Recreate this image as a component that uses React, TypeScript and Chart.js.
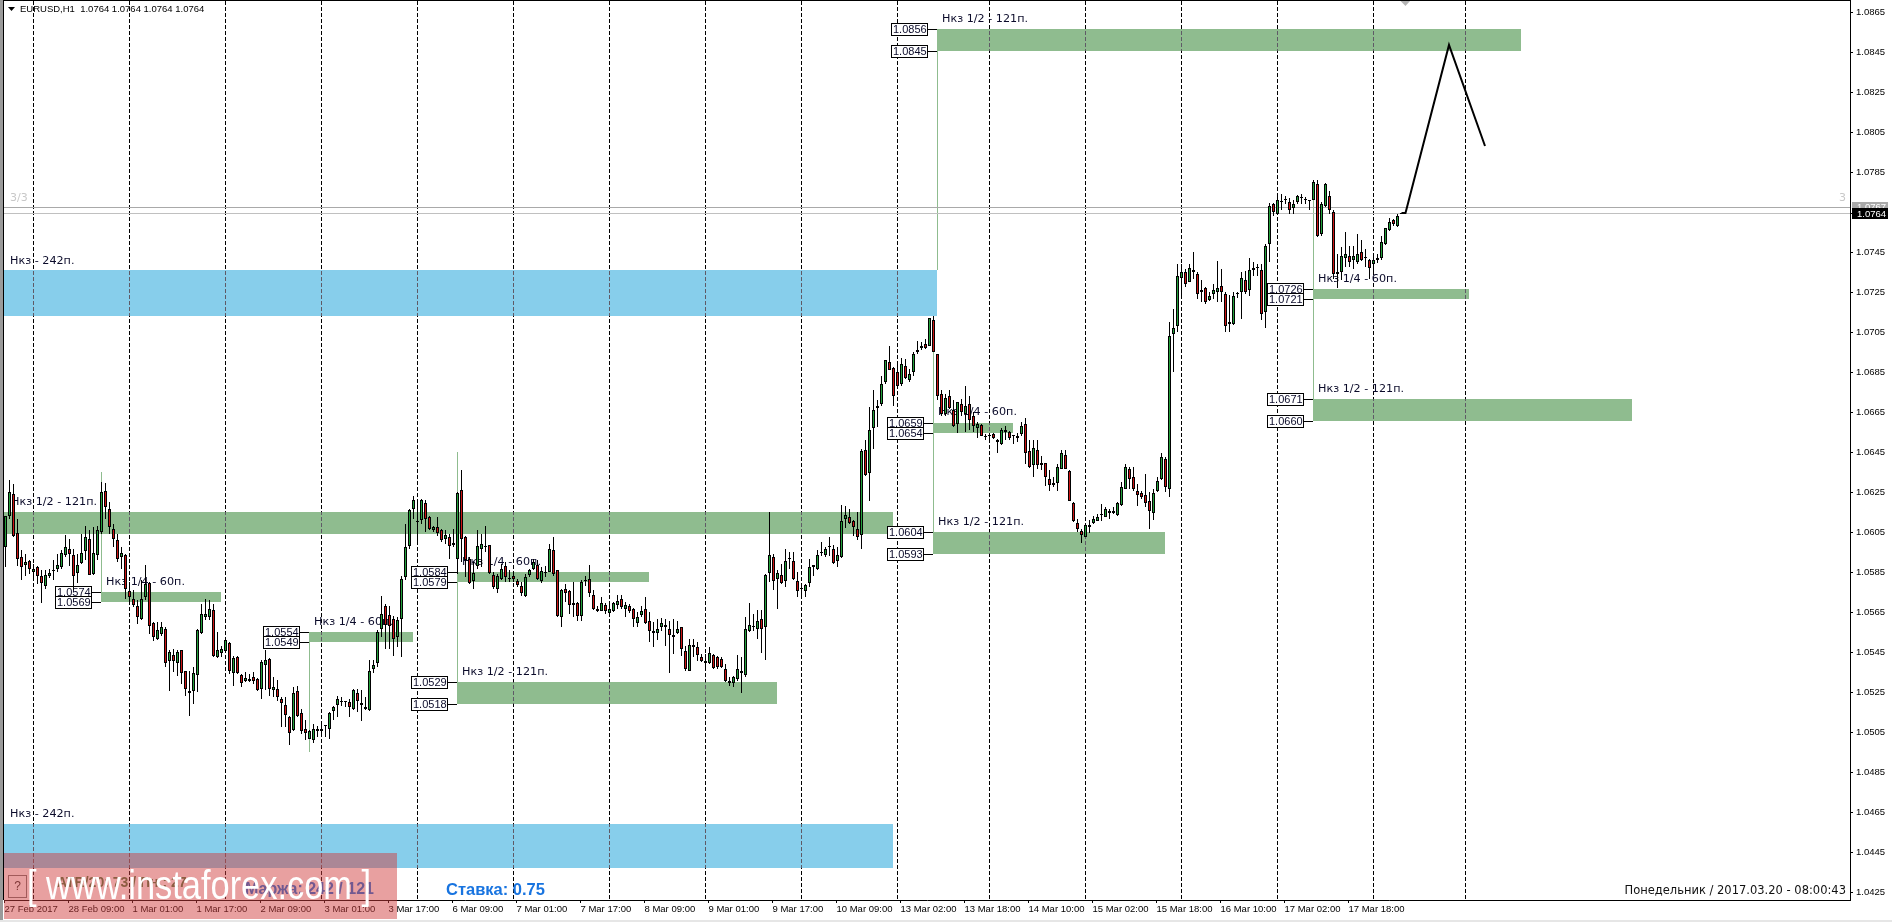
import React, { useEffect, useRef } from "react";
import { Chart, registerables } from "chart.js";

Chart.register(...registerables);

// Prices in points: 10615 means 1.0615
const opens = [
10597.5,10613,10624,10604.5,10592.5,10588.5,10590.5,10585,10587.5,10583,
10578,10583,10585.5,10586.5,10587.5,10593.5,10596.5,10593.5,10584.5,10589.5,
10595.5,10601.5,10584,10593.5,10605,10625.5,10616.5,10606.5,10601,10592.5,
10593.5,10575.5,10571.5,10568,10561.5,10572.5,10579.5,10559.5,10551.5,10554,
10556.5,10540.5,10543.5,10539.5,10546,10535.5,10525.5,10525.5,10533.5,10554.5,
10562.5,10562.5,10566,10542.5,10544.5,10545.5,10549.5,10534.5,10542.5,10533.5,
10530.5,10530.5,10532.5,10531.5,10526.5,10538.5,10541.5,10526,10526.5,10521.5,
10518.5,10512.5,10506,10525.5,10514.5,10506.5,10501.5,10501,10505.5,10505.5,
10508,10506.5,10515.5,10518.5,10520,10520,10520,10516.5,10524.5,10519.5,
10517.5,10516,10536.5,10539.5,10556.5,10568,10563.5,10561.5,10552.5,10561.5,
10582.5,10598,10616.5,10610,10611,10619.5,10612.5,10606,10607.5,10606,
10601.5,10602.5,10599.5,10591.5,10626,10602.5,10591.5,10580.5,10588,10596.5,
10597.5,10598.5,10583.5,10576.5,10581.5,10588,10581.5,10583,10580.5,10578,
10573,10583.5,10586.5,10588.5,10580.5,10584.5,10585,10596,10586,10562.5,
10576.5,10575.5,10569.5,10569.5,10563,10580.5,10581.5,10573.5,10565.5,10565.5,
10568.5,10564.5,10565.5,10568.5,10571.5,10566.5,10568,10566.5,10559.5,10563.5,
10566.5,10560.5,10554.5,10554.5,10557.5,10557.5,10556.5,10552.5,10554.5,10557.5,
10545.5,10535.5,10547.5,10547.5,10542.5,10539.5,10539.5,10543.5,10542.5,10541.5,
10536.5,10529.5,10529.5,10531.5,10535.5,10533.5,10555.5,10557.5,10556.5,10561.5,
10557.5,10584.5,10592.5,10581.5,10583.5,10580.5,10591.5,10590.5,10580.5,10576.5,
10575.5,10579.5,10587.5,10586.5,10594.5,10593.5,10597.5,10596.5,10590.5,10592.5,
10611.5,10612.5,10610.5,10606.5,10603.5,10646,10634.5,10657,10667,10669,
10680,10690,10687,10685,10679,10688,10681,10685,10695,10697,
10699,10698,10711,10694,10674,10664,10673,10666,10659,10669,
10664,10669,10663,10657,10658.5,10652.5,10653,10654,10651,10649,
10655,10655,10653,10652,10654,10659,10645.5,10638.5,10646,10639.5,
10639.5,10631.5,10628.5,10629.5,10636.5,10643.5,10635.5,10619.5,10609.5,10605.5,
10602.5,10607.5,10609.5,10610.5,10613.5,10612.5,10614.5,10615.5,10613.5,10618.5,
10626.5,10636.5,10632.5,10625.5,10624.5,10623.5,10620.5,10614.5,10625.5,10631.5,
10641.5,10626.5,10704,10708,10732,10735,10730,10736,10734,10725,
10727,10721,10724,10725,10728,10724,10709,10709,10724,10725,
10731,10726,10737,10737,10736,10715,10749,10769,10764,10770,
10771,10770,10767,10770,10772,10771,10770.5,10771,10779,10754,
10768,10773,10765,10735,10735,10742,10743,10741,10740,10745,
10742,10741,10739,10741,10742,10749,10756,10761,10758,10764,
];
const closes = [
10613,10625,10603,10591.5,10587.5,10590,10586.5,10586.5,10583,10579.5,
10583.5,10584.5,10586,10588.5,10594.5,10597.5,10594,10583,10588.5,10594.5,
10602.5,10583.5,10594.5,10606,10625,10617.5,10607.5,10601.5,10591.5,10594.5,
10576.5,10572.5,10568.5,10562.5,10571.5,10579,10558,10552.5,10556,10557.5,
10539.5,10545,10540.5,10545,10534.5,10526.5,10524.5,10534.5,10556,10564,
10564,10566.5,10543,10546,10546.5,10551,10535.5,10542,10534.5,10529.5,
10532,10531.5,10530.5,10526,10540,10541,10526.5,10527.5,10522.5,10519.5,
10513.5,10504.5,10524.5,10513,10505.5,10504.5,10505.5,10506.5,10506.5,10506.5,
10508.5,10514.5,10517.5,10521.5,10520.5,10520.5,10517.5,10526,10520.5,10518.5,
10516.5,10535.5,10538.5,10555,10564,10558.5,10558,10551.5,10561,10581.5,
10597.5,10616,10621,10610.5,10621,10611.5,10606.5,10607.5,10604.5,10601,
10603.5,10598,10598.5,10624.5,10601.5,10591,10579.5,10584.5,10598,10599,
10598,10584.5,10577.5,10583,10586.5,10582.5,10582,10581.5,10578.5,10574.5,
10582.5,10586,10590,10581.5,10585.5,10585,10596.5,10584,10563,10576,
10574.5,10568.5,10568.5,10563,10580,10581,10574.5,10566.5,10566.5,10569.5,
10565.5,10566.5,10569.5,10570.5,10567.5,10568.5,10565.5,10561.5,10562.5,10565.5,
10559.5,10555.5,10555.5,10556.5,10559.5,10558.5,10553.5,10553.5,10556.5,10546.5,
10536.5,10548.5,10548.5,10543.5,10540.5,10540.5,10544.5,10537,10537.5,10537.5,
10530.5,10530.5,10532.5,10536.5,10534.5,10556.5,10558.5,10558,10560.5,10556.5,
10583.5,10593.5,10580.5,10584.5,10579.5,10590.5,10592,10581.5,10575.5,10577,
10578.5,10587.5,10588.5,10593.5,10595,10596.5,10598,10589.5,10593.5,10610.5,
10613.5,10609.5,10607.5,10602.5,10645.5,10633.5,10656,10666,10668,10679,
10691,10686,10673,10678,10689,10682,10684,10694,10696,10698,
10697,10712,10695,10673,10664,10672,10667,10658,10670,10665,
10668,10661,10658,10659,10653,10653,10653.5,10652,10650,10656,
10656,10652,10653.5,10653,10658,10644.5,10637.5,10647,10638.5,10638.5,
10632.5,10628.5,10629.5,10637.5,10644.5,10636.5,10620.5,10610.5,10606.5,10603.5,
10608.5,10608.5,10611.5,10612.5,10614,10616.5,10615.5,10614.5,10619.5,10627.5,
10637.5,10631.5,10626.5,10623.5,10622.5,10619.5,10615.5,10624.5,10630.5,10642.5,
10627.5,10703,10707,10733,10735,10729,10737,10735,10724,10726,
10720,10723,10726,10727,10725,10708,10710,10723,10724.5,10732,
10725,10736,10736,10737.5,10714,10748,10768,10765,10771,10770.5,
10771.5,10766,10769,10773,10772.5,10771.5,10771,10780,10753,10769,
10779,10766,10734,10734,10743,10744,10740,10743,10744,10741,
10742.5,10737,10741,10742,10750,10757,10760,10759,10763,10764.5,
];
const highs = [
10613,10631,10629,10611.5,10596,10594,10591,10589,10588,10586,
10586,10586.5,10591,10594,10596,10603.5,10601.5,10596.5,10594,10604,
10608,10606,10607.5,10608,10630,10629.5,10620,10609,10604,10597.5,
10594,10580,10576,10571,10581,10588.5,10580,10560,10560,10560,
10557.5,10546,10546.5,10546,10546,10535.5,10535.5,10537.5,10556.5,10569,
10571.5,10571,10569,10555,10548,10551.5,10550,10543,10543,10534,
10535,10534,10535,10532,10541,10546,10542,10532.5,10531,10522.5,
10522.5,10513,10527.5,10528,10516.5,10511,10506,10509,10508,10509,
10508.5,10515,10518,10523,10522.5,10520.5,10521.5,10526.5,10526.5,10526,
10522.5,10541,10541,10556,10573,10569,10568,10563,10562.5,10583,
10609,10616.5,10623,10621,10621.5,10621,10613,10608,10612.5,10606.5,
10606,10604,10606.5,10625,10636,10603,10592.5,10590,10606,10604,
10608,10598.5,10585,10584,10589,10590,10586,10585,10581.5,10580,
10584,10586.5,10591.5,10591,10587.5,10588,10599,10602.5,10586,10576.5,
10579,10576,10580,10570,10581,10583,10588.5,10576,10568,10572.5,
10569.5,10569,10570,10573.5,10573.5,10570,10569,10567,10565,10568,
10572.5,10565,10560,10561.5,10562,10561.5,10560.5,10561.5,10560.5,10557.5,
10548,10551.5,10551.5,10550,10544,10544,10547.5,10544,10543,10542.5,
10539,10532.5,10533,10543.5,10542.5,10562.5,10569.5,10564,10566,10566,
10584,10615,10594,10586,10589,10596.5,10595,10595,10585,10578,
10579,10591.5,10588.5,10596,10600,10597.5,10602.5,10598.5,10597.5,10618.5,
10618,10616.5,10611,10615,10646.5,10651,10667.5,10676,10671,10683,
10691,10698,10687.5,10690,10692,10691.5,10686.5,10695,10700.5,10700,
10701.5,10712,10713,10694,10676,10674,10676,10671,10670,10671.5,
10678,10673,10665,10660,10659,10654,10654,10654.5,10651.5,10657,
10658,10655.5,10653.5,10654.5,10660,10662,10651,10651,10651,10643,
10639.5,10636,10632.5,10639,10646,10646,10636,10620,10611.5,10606.5,
10609,10611,10613,10614,10619,10617.5,10616.5,10617.5,10620,10630,
10639,10637.5,10637.5,10629,10625.5,10634,10625,10626.5,10632.5,10644.5,
10642.5,10710,10716.5,10739,10739,10736.5,10739,10745,10735,10731,
10727.5,10725,10729,10740.5,10736.5,10725,10723.5,10725,10725,10735,
10735.5,10742,10740,10739,10739,10749,10769.5,10769.5,10774.5,10774,
10773,10772,10771,10773.5,10774,10772.5,10771,10781,10781,10770,
10779.5,10775.5,10766,10744,10747.5,10755,10748,10748,10754,10751,
10746.5,10741.5,10744,10744,10753,10757,10762,10761.5,10764,10764.5,
];
const lows = [
10587.5,10611.5,10602.5,10588,10581,10583,10584,10582.5,10579,10569.5,
10576.5,10582,10581,10585,10586.5,10592.5,10588,10576,10579.5,10589,
10591,10583.5,10583.5,10591,10604,10611.5,10604,10597.5,10590,10586.5,
10571.5,10570,10567.5,10559,10561,10571,10554,10550.5,10551,10553,
10537.5,10525.5,10535,10533,10529,10523,10513,10519,10525,10554,
10561,10561,10542.5,10542,10542.5,10545,10534,10528,10534,10527.5,
10530,10530,10529,10525.5,10521.5,10526,10523,10522.5,10520.5,10507.5,
10507.5,10498.5,10505.5,10512.5,10504,10501,10501.5,10499.5,10502.5,10504,
10502.5,10501.5,10511,10512.5,10518,10517.5,10512.5,10516,10515,10510.5,
10516,10515.5,10534.5,10537.5,10552.5,10546.5,10546.5,10543,10547.5,10542.5,
10581,10596.5,10611.5,10599,10609,10605,10606,10605,10603,10600,
10599,10591.5,10597.5,10584,10590,10582.5,10579,10576.5,10586.5,10587.5,
10595,10584,10576.5,10574.5,10581,10580,10580,10580,10577.5,10573,
10572.5,10582.5,10586,10581,10579.5,10582.5,10585,10583,10562.5,10557.5,
10570,10564,10562.5,10560.5,10560.5,10578,10572.5,10566,10565,10565.5,
10564,10563.5,10565,10566.5,10566.5,10562.5,10564.5,10557.5,10557.5,10562.5,
10559,10550,10547.5,10551,10555.5,10548,10534.5,10544,10554,10543,
10535.5,10535.5,10542.5,10540.5,10540,10537.5,10539,10536.5,10536.5,10537,
10530,10528,10527.5,10530.5,10524.5,10532.5,10555,10555.5,10551.5,10544.5,
10541,10580,10576,10566.5,10579,10577.5,10586.5,10581,10572.5,10572.5,
10572.5,10577.5,10583,10586,10593,10592.5,10593,10589,10587.5,10592,
10607,10609,10603,10601,10596.5,10633,10620.5,10646.5,10657.5,10668,
10679,10686,10668,10677.5,10678,10681.5,10680,10683,10694,10696,
10696.5,10698,10695,10671,10663,10663,10666.5,10657.5,10654.5,10663,
10655,10656,10655,10652,10653,10651,10651,10651.5,10644.5,10648.5,
10651,10651,10649,10650,10653,10639,10637,10632.5,10636.5,10636,
10628,10625.5,10627.5,10625.5,10636.5,10636.5,10620.5,10610,10605,10599.5,
10602.5,10604.5,10609,10610.5,10610.5,10612.5,10611.5,10614,10613,10618,
10626.5,10626.5,10625.5,10618,10621.5,10617.5,10606.5,10611,10625,10631,
10625,10622.5,10685,10705,10722.5,10727.5,10730,10731.5,10721.5,10720,
10719,10720.5,10721.5,10720,10720,10705,10705,10708.5,10722,10711.5,
10724,10723,10733,10733,10711,10707,10740,10763,10763.5,10766,
10769,10764,10764,10769,10769,10769,10766,10771,10752.5,10753,
10767.5,10764,10731.5,10727,10731,10737.5,10737.5,10736.5,10739,10740.5,
10737.5,10731.5,10734.5,10739.5,10741,10748.5,10755.5,10758,10757.5,10764,
];

const xTickBars = [-0.25,15.75,31.75,47.75,63.75,79.75,95.75,111.75,127.75,143.75,159.75,175.75,191.75,207.75,223.75,239.75,255.75,271.75,287.75,303.75,319.75,335.75];
const xTickLabels = ["27 Feb 2017","28 Feb 09:00","1 Mar 01:00","1 Mar 17:00","2 Mar 09:00","3 Mar 01:00","3 Mar 17:00","6 Mar 09:00","7 Mar 01:00","7 Mar 17:00","8 Mar 09:00","9 Mar 01:00","9 Mar 17:00","10 Mar 09:00","13 Mar 02:00","13 Mar 18:00","14 Mar 10:00","15 Mar 02:00","15 Mar 18:00","16 Mar 10:00","17 Mar 02:00","17 Mar 18:00"];
const yTicks = [1.0865,1.0845,1.0825,1.0805,1.0785,1.0745,1.0725,1.0705,1.0685,1.0665,1.0645,1.0625,1.0605,1.0585,1.0565,1.0545,1.0525,1.0505,1.0485,1.0465,1.0445,1.0425];
const dashBars = [7,31,55,79,103,127,151,175,199,223,246,270,294,318,342,365];

const forecastBars = [349,350,360.875,369.875];
const forecastPts = [10764.5,10764.5,10848.5,10798];

// [start bar, end bar, top pts, bottom pts, colour]
const zones: [number, number, number, number, string][] = [
  [-0.375, 232.875, 10736, 10713, "#87CEEB"],
  [-0.375, 221.875, 10459, 10437, "#87CEEB"],
  [-0.375, 221.875, 10615, 10604, "#8FBC8F"],
  [23.875, 53.875, 10575, 10570, "#8FBC8F"],
  [75.875, 101.875, 10555, 10550, "#8FBC8F"],
  [112.875, 160.875, 10585, 10580, "#8FBC8F"],
  [112.875, 192.875, 10530, 10519, "#8FBC8F"],
  [231.875, 251.875, 10659.5, 10654.5, "#8FBC8F"],
  [231.875, 289.875, 10605, 10594, "#8FBC8F"],
  [232.875, 378.875, 10856.5, 10845.5, "#8FBC8F"],
  [326.875, 365.875, 10726.5, 10721.5, "#8FBC8F"],
  [326.875, 406.625, 10671.5, 10660.5, "#8FBC8F"],
];
// [bar, top pts, bottom pts]
const connectors: [number, number, number][] = [
  [23.875, 10635, 10570],
  [75.875, 10550, 10495],
  [112.875, 10645, 10519],
  [232.875, 10845.5, 10736],
  [231.875, 10713, 10594],
  [326.875, 10781, 10660.5],
];
// [text, bar of the zone edge, pts]
const priceTags: [string, number, number][] = [
  ["1.0574", 23.875, 10575], ["1.0569", 23.875, 10570],
  ["1.0554", 75.875, 10555], ["1.0549", 75.875, 10550],
  ["1.0584", 112.875, 10585], ["1.0579", 112.875, 10580],
  ["1.0529", 112.875, 10530], ["1.0518", 112.875, 10519],
  ["1.0659", 231.875, 10659.5], ["1.0654", 231.875, 10654.5],
  ["1.0604", 231.875, 10605], ["1.0593", 231.875, 10594],
  ["1.0856", 232.875, 10856.5], ["1.0845", 232.875, 10845.5],
  ["1.0726", 326.875, 10726.5], ["1.0721", 326.875, 10721.5],
  ["1.0671", 326.875, 10671.5], ["1.0660", 326.875, 10660.5],
];
// [text, bar, pts]
const zoneNotes: [string, number, number][] = [
  ["Нкз - 242п.", 1.125, 10740.5],
  ["Нкз - 242п.", 1.125, 10464],
  ["Нкз 1/2 - 121п.", 1.375, 10620],
  ["Нкз 1/4 - 60п.", 25.125, 10580],
  ["Нкз 1/4 - 60п.", 77.125, 10560],
  ["Нкз 1/4 - 60п.", 114.125, 10590],
  ["Нкз 1/2 - 121п.", 114.125, 10535],
  ["Нкз 1/4 - 60п.", 233.125, 10665],
  ["Нкз 1/2 - 121п.", 233.125, 10610],
  ["Нкз 1/2 - 121п.", 234.125, 10861.5],
  ["Нкз 1/4 - 60п.", 328.125, 10731.5],
  ["Нкз 1/2 - 121п.", 328.125, 10676.5],
];
const currentPts = 10764.5;
const askPts = 10767.5;

const P = (v: number) => v / 10000;
const SANS = "'Liberation Sans', Arial, sans-serif";
const NOTE = "'DejaVu Sans', sans-serif";

function App() {
  const ref = useRef<HTMLCanvasElement | null>(null);
  useEffect(() => {
    document.body.style.margin = "0";
    const canvas = ref.current!;
    const text = (ctx: any, s: string, x: number, y: number, font: string, color: string, align: any = "left") => {
      ctx.font = font;
      ctx.fillStyle = color;
      ctx.textAlign = align;
      ctx.textBaseline = "middle";
      ctx.fillText(s, x, y);
    };
    const noPad = (s: any) => {
      s.paddingTop = 0;
      s.paddingBottom = 0;
      s.paddingLeft = 0;
      s.paddingRight = 0;
    };
    const mtPlugin = {
      id: "mt",
      beforeDatasetsDraw(chart: any) {
        const { ctx, scales: { x, y }, chartArea: a } = chart;
        const Y = (p: number) => Math.round(y.getPixelForValue(P(p)));
        const X = (b: number) => Math.round(x.getPixelForValue(b));
        ctx.save();
        ctx.beginPath();
        ctx.rect(a.left, a.top, a.right - a.left, a.bottom - a.top);
        ctx.clip();
        const dashes = (color: string) => {
          ctx.strokeStyle = color;
          ctx.lineWidth = 1;
          ctx.setLineDash([4, 2]);
          dashBars.forEach((b) => {
            const px = Math.floor(x.getPixelForValue(b)) + 0.5;
            ctx.beginPath();
            ctx.moveTo(px, a.top);
            ctx.lineTo(px, a.bottom);
            ctx.stroke();
          });
          ctx.setLineDash([]);
        };
        zones.forEach(([b0, b1, t, bt, c]) => {
          ctx.fillStyle = c;
          ctx.fillRect(X(b0), Y(t), X(b1) - X(b0), Y(bt) - Y(t));
        });
        dashes("#000");
        zones.forEach(([b0, b1, t, bt]) => {
          ctx.save();
          ctx.beginPath();
          ctx.rect(X(b0), Y(t), X(b1) - X(b0), Y(bt) - Y(t));
          ctx.clip();
          dashes("#5f5a66");
          ctx.restore();
        });
        ctx.fillStyle = "#8FBC8F";
        connectors.forEach(([b, t, bt]) => ctx.fillRect(X(b), Y(t), 1, Y(bt) - Y(t)));
        ctx.fillStyle = "#a9a9a9";
        ctx.fillRect(a.left, Y(askPts), a.right - a.left, 1);
        ctx.fillStyle = "#c0c0c0";
        ctx.fillRect(a.left, Y(currentPts), a.right - a.left, 1);
        zoneNotes.forEach(([s, b, p]) => text(ctx, s, x.getPixelForValue(b), y.getPixelForValue(P(p)), `11.2px ${NOTE}`, "#0b0b2a"));
        priceTags.forEach(([s, b, p]) => {
          const edge = X(b);
          const py = Y(p);
          ctx.fillStyle = "#000";
          ctx.fillRect(edge - 10, py, 10, 1);
          const left = edge - 46;
          ctx.fillStyle = "#fff";
          ctx.fillRect(left, py - 6, 36, 12);
          ctx.strokeStyle = "#000";
          ctx.lineWidth = 1;
          ctx.strokeRect(left + 0.5, py - 5.5, 36, 12);
          text(ctx, s, left + 2, py + 1, `11px ${SANS}`, "#0b0b2a");
        });
        text(ctx, "3/3", 10, 198, `11px ${NOTE}`, "#c8c8c8");
        text(ctx, "3", 1846, 198, `11px ${NOTE}`, "#c8c8c8", "right");
        ctx.restore();
      },
      afterDraw(chart: any) {
        const { ctx, scales: { y }, chartArea: a } = chart;
        ctx.save();
        ctx.fillStyle = "#000";
        ctx.fillRect(3, 0, a.right - 3 + 1, 1);
        ctx.fillRect(3, 0, 1, a.bottom);
        ctx.fillStyle = "#9a9a9a";
        ctx.fillRect(0, 0, 3, 922);
        ctx.fillStyle = "#e6e6e6";
        ctx.fillRect(0, 920, 1892, 2);

        // header
        ctx.fillStyle = "#000";
        ctx.beginPath();
        ctx.moveTo(8, 7);
        ctx.lineTo(15, 7);
        ctx.lineTo(11.5, 11);
        ctx.closePath();
        ctx.fill();
        text(ctx, "EURUSD,H1  1.0764 1.0764 1.0764 1.0764", 20, 9, `9.5px ${SANS}`, "#000");

        // terminal marker on top
        ctx.fillStyle = "#b4b4b4";
        ctx.beginPath();
        ctx.moveTo(1400.5, 1);
        ctx.lineTo(1410, 1);
        ctx.lineTo(1405.5, 6);
        ctx.closePath();
        ctx.fill();

        // right-hand price tags
        const askY = Math.round(y.getPixelForValue(P(askPts)));
        const curY = Math.round(y.getPixelForValue(P(currentPts)));
        ctx.fillStyle = "#a9a9a9";
        ctx.fillRect(1852, askY - 5, 36, 11);
        text(ctx, "1.0767", 1857, askY, `9.5px ${SANS}`, "#fff");
        ctx.fillStyle = "#000";
        ctx.fillRect(1852, curY - 5, 36, 11);
        ctx.fillRect(1850, curY, 3, 1);
        text(ctx, "1.0764", 1857, curY + 1, `9.5px ${SANS}`, "#fff");

        // panel texts
        ctx.strokeStyle = "#777";
        ctx.lineWidth = 1;
        ctx.strokeRect(8.5, 875.5, 18, 22);
        text(ctx, "?", 17.5, 887, `12px ${SANS}`, "#333", "center");
        text(ctx, "ATR/20: 73 / Пн.: 27", 57, 883, `bold 14px ${SANS}`, "#4d7a45");
        text(ctx, "Маржа: 242 / 121", 245, 890, `bold 16px ${SANS}`, "#1874e0");
        text(ctx, "Ставка: 0.75", 446, 890, `bold 16.5px ${SANS}`, "#1874e0");
        text(ctx, "Понедельник / 2017.03.20 - 08:00:43", 1846, 891, `11.5px ${NOTE}`, "#111", "right");

        // watermark
        ctx.fillStyle = "rgba(208,61,61,0.49)";
        ctx.fillRect(4, 853, 393, 66);
        ctx.translate(27, 888);
        ctx.scale(0.86, 1);
        text(ctx, "[ www.instaforex.com ]", 0, 0, `40px ${SANS}`, "#fff");
        ctx.restore();
      },
    };
    const chart = new Chart(canvas, {
      type: "bar",
      plugins: [mtPlugin],
      data: {
        datasets: [
          {
            type: "line",
            order: 1,
            data: forecastBars.map((b, i) => ({ x: b, y: P(forecastPts[i]) })),
            borderColor: "#000",
            borderWidth: 2,
            pointRadius: 0,
            tension: 0,
          },
          {
            order: 2,
            grouped: false,
            barThickness: 3,
            maxBarThickness: 3,
            inflateAmount: 0,
            data: opens.map((o, i) => ({ x: i, y: [P(o), P(closes[i])] })),
            backgroundColor: opens.map((o, i) => (closes[i] >= o ? "#22a03a" : "#cc1414")),
            borderColor: "#000",
            borderWidth: 1,
            borderSkipped: false,
          },
          {
            order: 3,
            grouped: false,
            barThickness: 1,
            maxBarThickness: 1,
            inflateAmount: 0,
            data: lows.map((l, i) => ({ x: i, y: [P(l), P(highs[i])] })),
            backgroundColor: "#000",
            borderWidth: 0,
          },
        ],
      } as any,
      options: {
        responsive: false,
        animation: false,
        layout: { padding: { left: 4, top: 1, right: 0, bottom: 0 } },
        plugins: { legend: { display: false }, tooltip: { enabled: false }, title: { display: false } },
        scales: {
          x: {
            type: "linear",
            offset: false,
            min: -0.375,
            max: 461.125,
            afterFit: (s: any) => { s.height = 22; noPad(s); },
            afterBuildTicks: (s: any) => { s.ticks = xTickBars.map((v) => ({ value: v })); },
            grid: { offset: false, drawOnChartArea: false, drawTicks: true, tickLength: 3, color: "#000" },
            border: { color: "#000", width: 1 },
            ticks: {
              autoSkip: false,
              maxRotation: 0,
              minRotation: 0,
              align: "start",
              padding: 1,
              color: "#000",
              font: { family: "'Liberation Sans'", size: 9.5 },
              callback: (_v: any, i: number) => xTickLabels[i],
            },
          },
          y: {
            position: "right",
            min: 1.0421,
            max: 1.08705,
            afterFit: (s: any) => { s.width = 42; noPad(s); },
            afterBuildTicks: (s: any) => { s.ticks = yTicks.map((v) => ({ value: v })); },
            grid: { drawOnChartArea: false, drawTicks: true, tickLength: 3, color: "#000" },
            border: { color: "#000", width: 1 },
            ticks: {
              autoSkip: false,
              padding: 3,
              color: "#000",
              font: { family: "'Liberation Sans'", size: 9.5 },
              callback: (v: any) => Number(v).toFixed(4),
            },
          },
        },
      } as any,
    });
    return () => chart.destroy();
  }, []);
  return (
    <canvas
      ref={ref}
      width={1892}
      height={922}
      style={{ display: "block", position: "fixed", left: 0, top: 0, background: "#fff" }}
    />
  );
}

export default App;
